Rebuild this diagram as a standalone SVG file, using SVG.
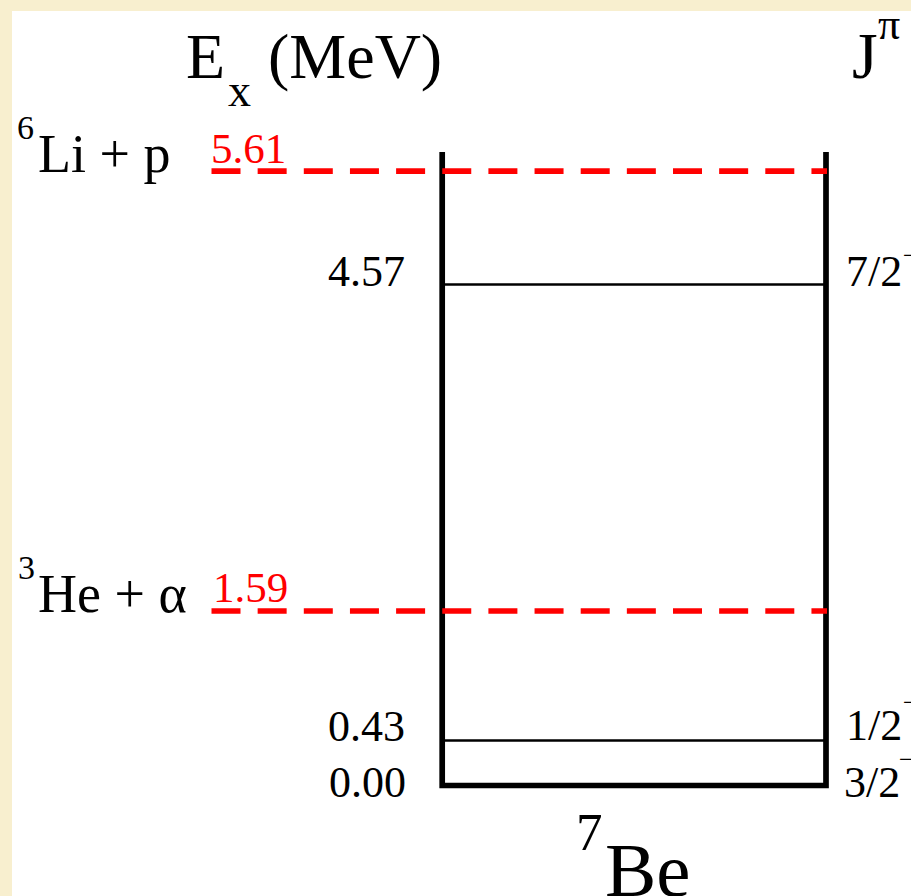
<svg xmlns="http://www.w3.org/2000/svg" width="911" height="896" viewBox="0 0 911 896">
<style>
text{font-family:"Liberation Serif","Times New Roman",serif;fill:#000}
.red{fill:#ff0000}
.lvl{stroke:#000;stroke-width:2.5}
.thick{stroke:#000;stroke-width:5.7;fill:none}
.dash{stroke:#ff0000;stroke-width:5.7;stroke-dasharray:29 17.15}
.e{font-size:44px;text-anchor:end}
.j{font-size:44px}
.sup{font-size:34px}
.m{font-size:26px}
</style>
<rect x="0" y="0" width="911" height="896" fill="#f8efcf"/>
<rect x="12" y="11" width="899" height="885" fill="#ffffff"/>
<g id="title">
<text x="186" y="78" font-size="64">E</text>
<text x="228" y="106" font-size="46">x</text>
<text x="268" y="78" font-size="64">(MeV)</text>
<text x="852" y="78" font-size="66">J</text>
<text x="878" y="39" font-size="44">π</text>
</g>
<g id="connectors">
<path class="thick" d="M442.2 152 V785.5 H826 V152"/>
<line class="dash" x1="211.5" y1="171.2" x2="827" y2="171.2"/>
<line class="dash" x1="211.5" y1="611" x2="827" y2="611"/>
<line class="lvl" x1="442" y1="284.5" x2="826" y2="284.5"/>
<line class="lvl" x1="442" y1="740.5" x2="826" y2="740.5"/>
</g>
<g id="threshold-li">
<text class="sup" x="17" y="139">6</text>
<text x="38" y="172" font-size="54">Li + p</text>
<text class="red" x="211" y="163" font-size="43">5.61</text>
</g>
<g id="threshold-he">
<text class="sup" x="18" y="579">3</text>
<text x="38" y="612" font-size="54">He + α</text>
<text class="red" x="213" y="602" font-size="43">1.59</text>
</g>
<g id="level-457">
<text class="e" x="405" y="286">4.57</text>
<text class="j" x="846" y="286">7/2</text>
<text class="m" x="903" y="264">−</text>
</g>
<g id="level-043">
<text class="e" x="405" y="741">0.43</text>
<text class="j" x="846" y="740">1/2</text>
<text class="m" x="903" y="711">−</text>
</g>
<g id="level-000">
<text class="e" x="406" y="797">0.00</text>
<text class="j" x="844" y="797">3/2</text>
<text class="m" x="899" y="768">−</text>
</g>
<g id="nucleus">
<text x="576" y="850" font-size="53">7</text>
<text x="605" y="896" font-size="77">Be</text>
</g>
</svg>
